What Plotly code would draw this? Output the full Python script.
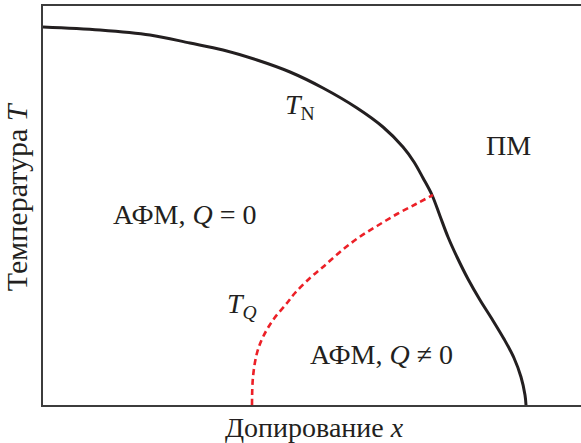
import plotly.graph_objects as go

# Néel line T_N (x: doping in plot units, T: temperature in plot units)
tn_x = [0, 57, 107, 147, 180, 214, 247, 280, 314, 340, 360, 371, 380, 389, 397, 405, 414, 425, 437, 449, 461, 471, 478, 482, 483]
tn_T = [378, 375, 370, 362, 355, 345, 333, 317, 297, 278, 258, 243, 227, 210, 189, 168, 148, 126, 105, 86, 66, 47, 28, 10, 0]

# T_Q line
tq_x = [209, 210, 214, 220, 230, 244, 252, 267, 280, 297, 315, 334, 354, 373, 390]
tq_T = [0, 28, 52, 68, 85, 102, 112, 127, 138, 153, 167, 179, 191, 201, 210]

FONT = "Liberation Serif"
TXT = "#231f20"

fig = go.Figure()
fig.add_trace(go.Scatter(x=tn_x, y=tn_T, mode="lines",
                         line=dict(color="#231f20", width=3, shape="spline", smoothing=1),
                         hoverinfo="skip"))
fig.add_trace(go.Scatter(x=tq_x, y=tq_T, mode="lines",
                         line=dict(color="#ec2027", width=2.6, dash="6px,4px", shape="spline", smoothing=1),
                         hoverinfo="skip"))

labels = [
    (257, 299, "<i>T</i><sub>N</sub>"),
    (465, 260, "ПМ"),
    (142, 191, "АФМ, <i>Q</i> = 0"),
    (199, 100, "<i>T</i><sub><i>Q</i></sub>"),
    (338, 51, "АФМ, <i>Q</i> ≠ 0"),
]
for x, y, t in labels:
    fig.add_annotation(x=x, y=y, text=t, showarrow=False, xref="x", yref="y",
                       font=dict(family=FONT, size=28, color=TXT))

fig.add_annotation(x=0.504, y=-0.056, xref="paper", yref="paper", text="Допирование <i>x</i>",
                   showarrow=False, yanchor="middle",
                   font=dict(family=FONT, size=28, color=TXT))
fig.add_annotation(x=-0.05, y=0.521, xref="paper", yref="paper", text="Температура <i>T</i>",
                   showarrow=False, textangle=-90, xanchor="center", yanchor="middle",
                   font=dict(family=FONT, size=30, color=TXT))

fig.update_layout(
    width=581, height=443,
    margin=dict(l=43, r=0, t=6, b=38),
    paper_bgcolor="white", plot_bgcolor="white",
    showlegend=False,
    xaxis=dict(range=[0, 538], showgrid=False, zeroline=False, showticklabels=False,
               ticks="", showline=True, linecolor="#3c3c3c", linewidth=1.5, mirror=True,
               fixedrange=True),
    yaxis=dict(range=[0, 399], showgrid=False, zeroline=False, showticklabels=False,
               ticks="", showline=True, linecolor="#3c3c3c", linewidth=1.5,
               fixedrange=True),
)

fig.write_html("out.html")
